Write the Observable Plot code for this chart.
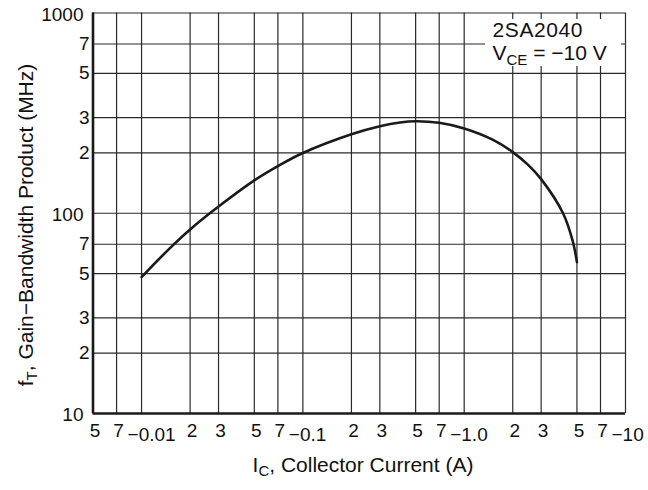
<!DOCTYPE html>
<html><head><meta charset="utf-8">
<script src="https://cdn.jsdelivr.net/npm/d3@7"></script>
<script src="https://cdn.jsdelivr.net/npm/@observablehq/plot@0.6"></script>
<style>
body{margin:0;background:#fff}
#chart svg{display:block}
</style>
</head><body><div id="chart"></div>
<script>
// Data (collector current shown as magnitude, A)
const currentA = [0.01, 0.015, 0.02, 0.03, 0.05, 0.07, 0.1, 0.2, 0.3, 0.4, 0.5, 0.7, 1, 1.5, 2, 2.5, 3, 4.1, 4.7, 5];
const ftMHz    = [48,   67,    83,   108,  146,  172,  200, 248, 272, 284, 288, 283, 265, 233, 202, 174, 148, 100, 73, 57];

const xGrid = [0.005,0.007,0.01,0.02,0.03,0.05,0.07,0.1,0.2,0.3,0.5,0.7,1,2,3,5,7,10];
const yGrid = [10,20,30,50,70,100,200,300,500,700,1000];
const xMinorTicks = [0.005,0.007,0.02,0.03,0.05,0.07,0.2,0.3,0.5,0.7,2,3,5,7];
const xDecadeTicks = [0.01,0.1,1,10];
const xDecadeLabels = ["−0.01","−0.1","−1.0","−10"];
const yDecadeTicks = [10,100,1000];
const yMinorTicks = [20,30,50,70,200,300,500,700];
const legendTitle = "2SA2040";
const xTitle = ["I", "C", ", Collector Current (A)"];
const yTitle = ["f", "T", ", Gain−Bandwidth Product (MHz)"];

const mantissa = d => String(Math.round(d / Math.pow(10, Math.floor(Math.log10(d) + 1e-9))));
const font = "'Liberation Sans', Arial, Helvetica, sans-serif";

const W = 648, H = 490;
const chart = Plot.plot({
  width: W, height: H,
  marginLeft: 92.5, marginRight: 23, marginTop: 12.5, marginBottom: 77,
  style: {fontFamily: font, background: "#fff", color: "#111"},
  x: {type: "log", domain: [0.005, 10], axis: null},
  y: {type: "log", domain: [10, 1000], axis: null},
  marks: [
    Plot.ruleX(xGrid, {stroke: "#2a2a2a", strokeWidth: 1.2}),
    Plot.ruleY(yGrid, {stroke: "#2a2a2a", strokeWidth: 1.2}),
    Plot.ruleX([0.005], {stroke: "#1a1a1a", strokeWidth: 2.6}),
    Plot.ruleY([10], {stroke: "#1a1a1a", strokeWidth: 2.6}),
    Plot.line(currentA.map((c, i) => ({c, f: ftMHz[i]})), {x: "c", y: "f", curve: "catmull-rom", stroke: "#1a1a1a", strokeWidth: 2.6}),
    Plot.text(xMinorTicks, {x: d => d, text: mantissa, frameAnchor: "bottom", lineAnchor: "top", dy: 10, dx: 2, fontSize: 19, fill: "#111"}),
    Plot.text(xDecadeTicks, {x: d => d, text: (d, i) => xDecadeLabels[i], frameAnchor: "bottom", lineAnchor: "top", textAnchor: "start", dy: 14, dx: -14, fontSize: 19, fill: "#111"}),
    Plot.text(yDecadeTicks, {y: d => d, text: d => String(d), frameAnchor: "left", textAnchor: "end", dx: -9.5, dy: 1.5, fontSize: 19, fill: "#111"}),
    Plot.text(yMinorTicks, {y: d => d, text: mantissa, frameAnchor: "left", textAnchor: "end", dx: -3.5, fontSize: 19, fill: "#111"})
  ]
});

const svg = d3.select(chart);
// Legend box (white cut-out in the grid) at top-right of the frame
const lg = svg.append("g").attr("font-family", font).attr("fill", "#111").attr("text-anchor", "start");
lg.append("rect").attr("x", 485).attr("y", 19).attr("width", 136).attr("height", 47).attr("fill", "#fff");
lg.append("text").attr("x", 492.5).attr("y", 36.5).attr("font-size", 21).attr("letter-spacing", 0.6).text(legendTitle);
const v = lg.append("text").attr("x", 492.5).attr("y", 60).attr("font-size", 21);
v.append("tspan").text("V");
v.append("tspan").attr("font-size", 15).attr("dy", 5).text("CE");
v.append("tspan").attr("dy", -5).text(" = −10 V");

// Axis titles with subscripts
const xt = svg.append("text").attr("font-family", font).attr("font-size", 21).attr("fill", "#111")
  .attr("x", 363).attr("y", 472).attr("text-anchor", "middle");
xt.append("tspan").text(xTitle[0]);
xt.append("tspan").attr("font-size", 15).attr("dy", 4).text(xTitle[1]);
xt.append("tspan").attr("dy", -4).text(xTitle[2]);

const yt = svg.append("text").attr("font-family", font).attr("font-size", 21).attr("fill", "#111")
  .attr("transform", "translate(33,225) rotate(-90)").attr("text-anchor", "middle");
yt.append("tspan").text(yTitle[0]);
yt.append("tspan").attr("font-size", 15).attr("dy", 4).text(yTitle[1]);
yt.append("tspan").attr("dy", -4).text(yTitle[2]);

document.getElementById("chart").appendChild(chart);
</script>
</body></html>
